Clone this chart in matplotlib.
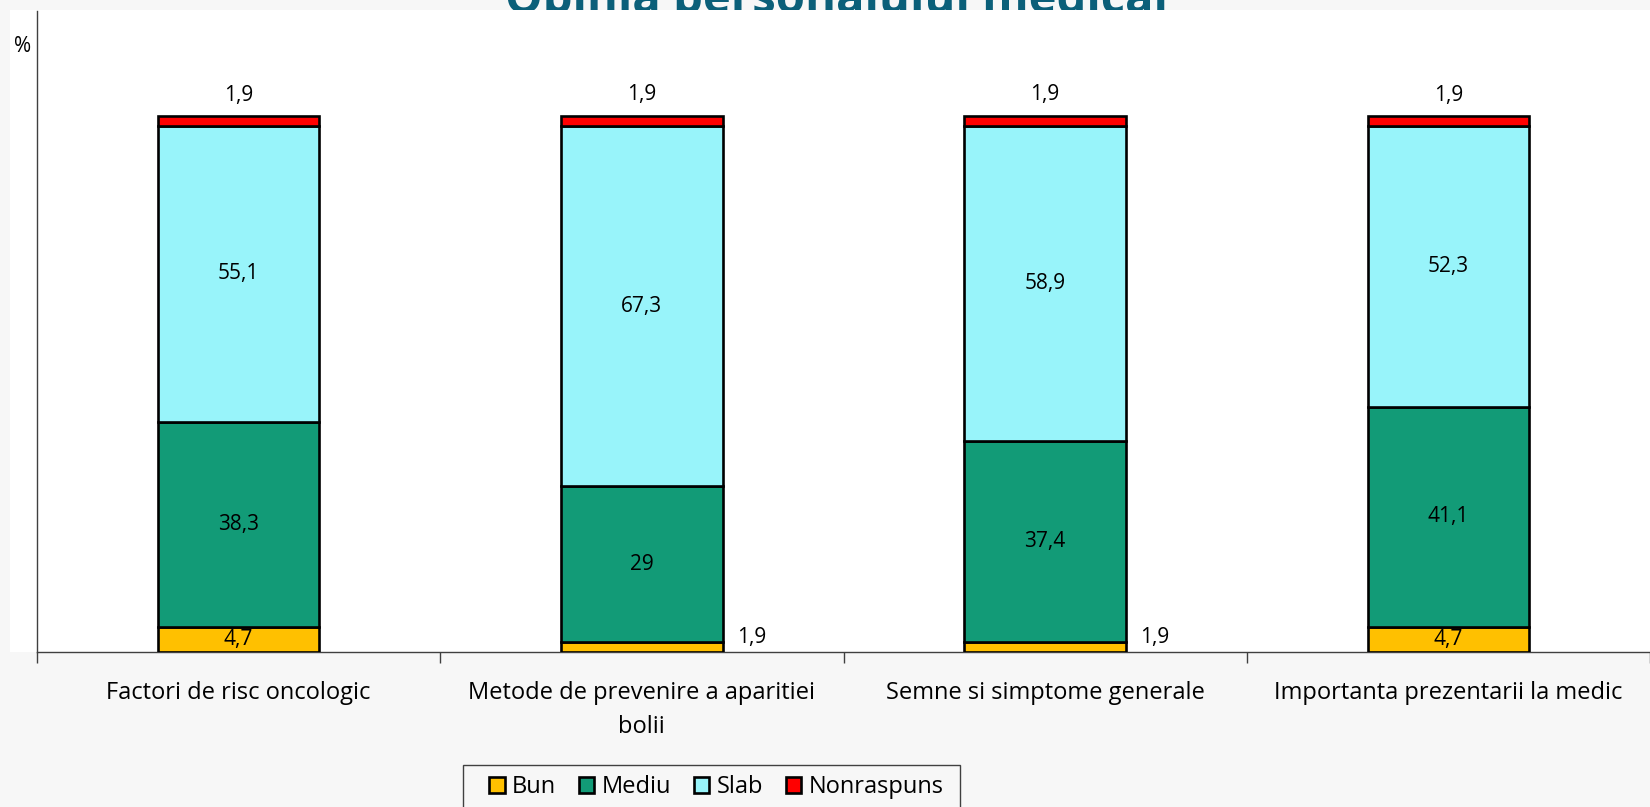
import matplotlib
matplotlib.use("Agg")
import matplotlib.pyplot as plt
from matplotlib.patches import Rectangle
import numpy as np

categories = ["Factori de risc oncologic", "Metode de prevenire a aparitiei\nbolii",
              "Semne si simptome generale", "Importanta prezentarii la medic"]
series_names = ["Bun", "Mediu", "Slab", "Nonraspuns"]
bun = [4.7, 1.9, 1.9, 4.7]
mediu = [38.3, 29, 37.4, 41.1]
slab = [55.1, 67.3, 58.9, 52.3]
nonraspuns = [1.9, 1.9, 1.9, 1.9]
colors = ["#FFC000", "#129B77", "#98F4FA", "#FF0000"]
title = "Opinia personalului medical"

plt.rcParams['font.family'] = ['Open Sans', 'DejaVu Sans']

W, H = 1650, 807
BG = "#F7F7F7"
fig = plt.figure(figsize=(W / 100, H / 100), dpi=100)
fig.patch.set_facecolor(BG)

# title (partly hidden, as in the reference)
fig.text(836 / W, 1 - 13 / H, title, ha="center", va="baseline", fontsize=34,
         fontweight="bold", color="#0B5F79", zorder=-2)
# white plot region
fig.patches.append(Rectangle((10 / W, 1 - 652 / H), 1 - 10 / W, (652 - 10) / H,
                             transform=fig.transFigure, facecolor="white",
                             edgecolor="none", zorder=-1))
# legend box
fig.patches.append(Rectangle((463 / W, -0.02), (960 - 463) / W, (807 - 765) / H + 0.02,
                             transform=fig.transFigure, facecolor="none",
                             edgecolor="#404040", linewidth=1, zorder=-1))

ax = fig.add_axes([37 / W, 1 - 652 / H, 1 - 37 / W, 641 / H])
ax.patch.set_visible(False)

x = np.arange(len(categories))
width = 0.4
data = [bun, mediu, slab, nonraspuns]
bottom = np.zeros(len(categories))
conts = []
for name, vals, c in zip(series_names, data, colors):
    bc = ax.bar(x, vals, width, bottom=bottom, color=c, edgecolor="black",
                linewidth=1.9, label=name, zorder=3)
    conts.append((bc, vals, bottom.copy()))
    bottom = bottom + np.array(vals)

def fmt(v):
    return f"{v:g}".replace(".", ",")

lab_fs = 15
# Bun labels
for xi, v, b in zip(x, bun, conts[0][2]):
    if v >= 3:
        ax.text(xi, b + v / 2, fmt(v), ha="center", va="center", fontsize=lab_fs, zorder=5)
    else:
        ax.annotate(fmt(v), (xi + width / 2, b + v / 2), xytext=(29, 9),
                    textcoords="offset pixels", ha="center", va="center",
                    fontsize=lab_fs, zorder=5)
# Mediu, Slab centered
for bc, vals, bot in conts[1:3]:
    for xi, v, b in zip(x, vals, bot):
        ax.text(xi, b + v / 2, fmt(v), ha="center", va="center", fontsize=lab_fs, zorder=5)
# Nonraspuns above
for xi, v, b in zip(x, nonraspuns, conts[3][2]):
    ax.annotate(fmt(v), (xi, b + v), xytext=(0, 21), textcoords="offset pixels",
                ha="center", va="center", fontsize=lab_fs, zorder=5)

ax.set_xlim(-0.5, len(categories) - 0.5)
ax.set_ylim(0, 119.6)
ax.set_xticks(x)
labels = ax.set_xticklabels(categories, fontsize=17)
for t in labels:
    t.set_linespacing(1.55)
ax.set_xticks(np.arange(len(categories) + 1) - 0.5, minor=True)
ax.tick_params(axis="x", which="major", length=0, pad=21)
ax.tick_params(axis="x", which="minor", length=8, width=1, color="#404040")
ax.set_yticks([])
for s in ["top", "right"]:
    ax.spines[s].set_visible(False)
for s in ["left", "bottom"]:
    ax.spines[s].set_color("#404040")
    ax.spines[s].set_linewidth(1)

fig.text(23 / W, 1 - 46 / H, "%", ha="center", va="center", fontsize=15)

leg = fig.legend(loc="center left", bbox_to_anchor=(489 / W, 1 - 787 / H), ncol=4,
                 fontsize=17, frameon=False,
                 handlelength=0.66, handleheight=0.66, handletextpad=0.32,
                 columnspacing=0.95, borderpad=0, borderaxespad=0)

fig.savefig("out.png", dpi=100, facecolor=fig.get_facecolor())
